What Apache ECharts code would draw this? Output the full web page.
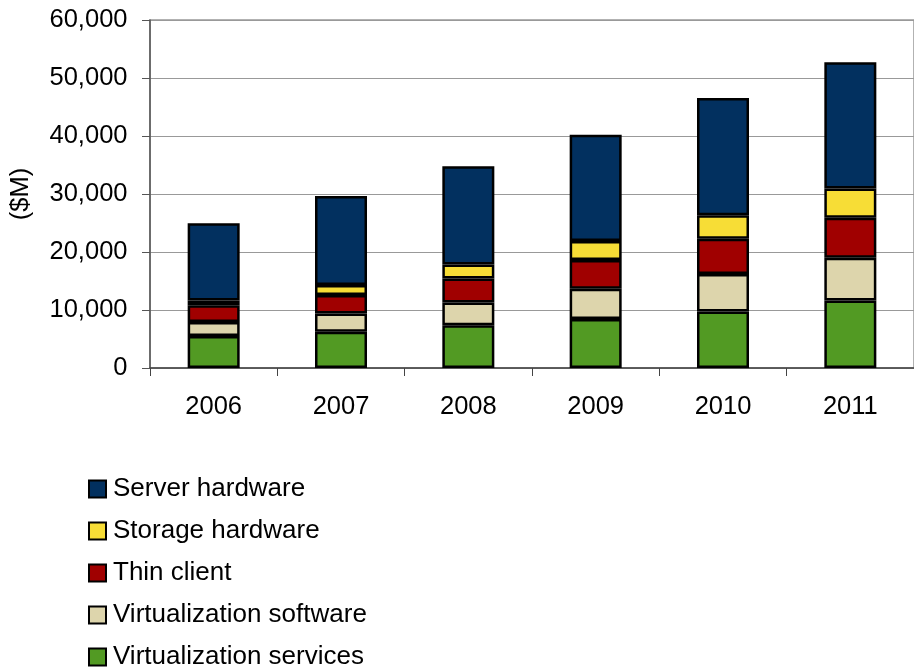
<!DOCTYPE html>
<html>
<head>
<meta charset="utf-8">
<script src="https://cdn.jsdelivr.net/npm/echarts@6/dist/echarts.min.js"></script>
<style>html,body{margin:0;padding:0;background:#fff}#c{width:914px;height:672px}</style>
</head>
<body>
<div id="c"></div>
<script>
const years = ['2006', '2007', '2008', '2009', '2010', '2011'];
const virtualizationServices = [5500, 6250, 7350, 8450, 9750, 11650];
const virtualizationSoftware = [2450, 3150, 3950, 5200, 6450, 7350];
const thinClient = [2850, 3200, 4150, 4950, 6100, 6900];
const storageHardware = [850, 1700, 2400, 3300, 4050, 5050];
const serverHardware = [13300, 15350, 16950, 18300, 20200, 21750];
const yTicks = [0, 10000, 20000, 30000, 40000, 50000, 60000];

const FONT = '"Liberation Sans", Arial, sans-serif';
function s(name, data, color) {
  return {
    name: name, type: 'bar', stack: 'total', data: data, barWidth: 52,
    itemStyle: { color: color, borderColor: '#000', borderWidth: 2.5 }
  };
}
const chart = echarts.init(document.getElementById('c'));
chart.setOption({
  animation: false,
  textStyle: { fontFamily: FONT },
  grid: { left: 150, top: 20, height: 348, width: 774, show: true, borderColor: '#999', borderWidth: 1.5 },
  legend: {
    orient: 'vertical', left: 88, top: 476, height: 196, padding: 0,
    itemWidth: 17, itemHeight: 17, itemGap: 16,
    icon: 'rect',
    data: ['Server hardware', 'Storage hardware', 'Thin client', 'Virtualization software', 'Virtualization services'],
    textStyle: { fontSize: 26, color: '#000', fontFamily: FONT, padding: [0, 0, 0, 2] }
  },
  xAxis: {
    type: 'category', data: years,
    axisLine: { lineStyle: { color: '#444', width: 1.5 } },
    axisTick: { show: true, length: 8, lineStyle: { color: '#444' } },
    axisLabel: { fontSize: 25.5, color: '#000', margin: 26, fontFamily: FONT },
    splitLine: { show: false }
  },
  yAxis: {
    type: 'value', min: yTicks[0], max: yTicks[yTicks.length - 1], interval: 10000,
    name: '($M)', nameLocation: 'middle', nameGap: 116, nameRotate: 90,
    nameTextStyle: { fontSize: 25.5, color: '#000', fontFamily: FONT },
    axisLine: { show: true, lineStyle: { color: '#555', width: 1.5 } },
    axisTick: { show: true, length: 8, lineStyle: { color: '#555' } },
    axisLabel: { fontSize: 25.5, color: '#000', margin: 22.5, fontFamily: FONT,
      formatter: v => v.toLocaleString('en-US') },
    splitLine: { lineStyle: { color: '#999', width: 1 } }
  },
  series: [
    s('Virtualization services', virtualizationServices, '#529A23'),
    s('Virtualization software', virtualizationSoftware, '#DDD5AC'),
    s('Thin client', thinClient, '#A00000'),
    s('Storage hardware', storageHardware, '#F7DD36'),
    s('Server hardware', serverHardware, '#02305F')
  ]
});
</script>
</body>
</html>
